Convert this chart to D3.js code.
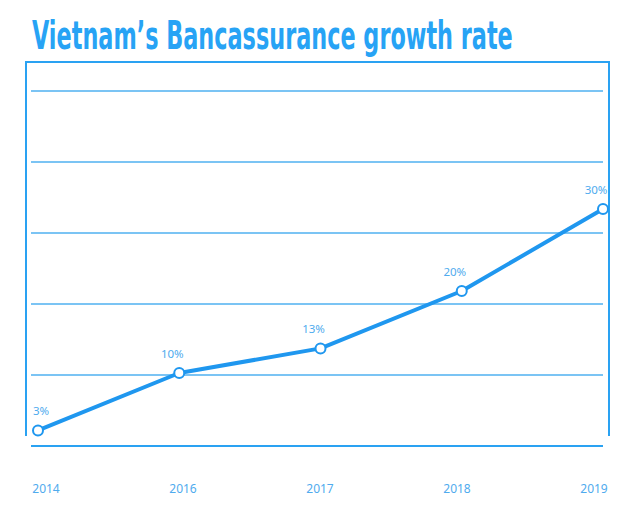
<!DOCTYPE html>
<html>
<head>
<meta charset="utf-8">
<script src="https://cdn.jsdelivr.net/npm/d3@7"></script>
<style>
  body { margin: 0; background: #fff; }
</style>
</head>
<body>
<div id="chart"></div>
<script>
// Chart data
const years = ['2014', '2016', '2017', '2018', '2019'];
const growth = [3, 10, 13, 20, 30];
const valueLabels = ['3%', '10%', '13%', '20%', '30%'];
const gridCount = 5;

const width = 630;
const height = 521;
const blue = '#1f97ef';
const frameBlue = '#2aa2f2';
const gridBlue = '#4fb1f0';
const textBlue = '#4fabee';

const svg = d3.select('#chart')
    .append('svg')
        .attr('width', width)
        .attr('height', height);

// Title, squeezed horizontally to the reference width
const title = svg.append('text')
    .style('font-family', '"Liberation Sans Narrow", "DejaVu Sans Condensed", sans-serif')
    .style('font-weight', 'bold')
    .style('font-size', '39px')
    .style('fill', '#27a3f5')
    .text('Vietnam\u2019s Bancassurance growth rate');
const titleW = title.node().getComputedTextLength();
title.attr('transform', `translate(32,49) scale(${481 / titleW},1)`);

// Scales
const x = d3.scalePoint()
    .domain(years)
    .range([38, 603]);

const xLabel = d3.scalePoint()
    .domain(years)
    .range([46, 594]);

const y = d3.scaleLinear()
    .domain([0, 30])
    .range([455, 209]);

const grid = d3.scaleLinear()
    .domain([0, gridCount])
    .range([446, 91]);

// Frame: top + side borders
svg.append('path')
    .attr('d', 'M26,436 V62 H609 V436')
    .attr('fill', 'none')
    .attr('stroke', frameBlue)
    .attr('stroke-width', 2);

// Gridlines
svg.selectAll('.grid')
    .data(d3.range(1, gridCount + 1))
    .enter()
    .append('line')
        .attr('class', 'grid')
        .attr('x1', 31)
        .attr('x2', 603)
        .attr('y1', d => grid(d))
        .attr('y2', d => grid(d))
        .attr('stroke', gridBlue)
        .attr('stroke-width', 1.3);

// Bottom baseline
svg.append('line')
    .attr('x1', 31)
    .attr('x2', 603)
    .attr('y1', grid(0))
    .attr('y2', grid(0))
    .attr('stroke', frameBlue)
    .attr('stroke-width', 2);

const points = years.map((yr, i) => ({ year: yr, value: growth[i], label: valueLabels[i] }));

// Line
const line = d3.line()
    .x(d => x(d.year))
    .y(d => y(d.value));

svg.append('path')
    .datum(points)
    .attr('d', line)
    .attr('fill', 'none')
    .attr('stroke', blue)
    .attr('stroke-width', 4)
    .attr('stroke-linejoin', 'round');

// Markers
svg.selectAll('.dot')
    .data(points)
    .enter()
    .append('circle')
        .attr('class', 'dot')
        .attr('cx', d => x(d.year))
        .attr('cy', d => y(d.value))
        .attr('r', 5)
        .attr('fill', '#fff')
        .attr('stroke', blue)
        .attr('stroke-width', 2);

// Value labels (kept clear of the left border)
svg.selectAll('.val')
    .data(points)
    .enter()
    .append('text')
        .attr('class', 'val')
        .attr('x', d => Math.max(x(d.year) - 7, 41))
        .attr('y', d => y(d.value) - 15)
        .style('text-anchor', 'middle')
        .style('font-family', '"Noto Sans", sans-serif')
        .style('font-size', '11.5px')
        .style('fill', textBlue)
        .text(d => d.label);

// Year labels
svg.selectAll('.year')
    .data(years)
    .enter()
    .append('text')
        .attr('class', 'year')
        .attr('x', d => xLabel(d))
        .attr('y', 493)
        .style('text-anchor', 'middle')
        .style('font-family', '"Noto Sans", sans-serif')
        .style('font-size', '12px')
        .style('fill', textBlue)
        .text(d => d);
</script>
</body>
</html>
